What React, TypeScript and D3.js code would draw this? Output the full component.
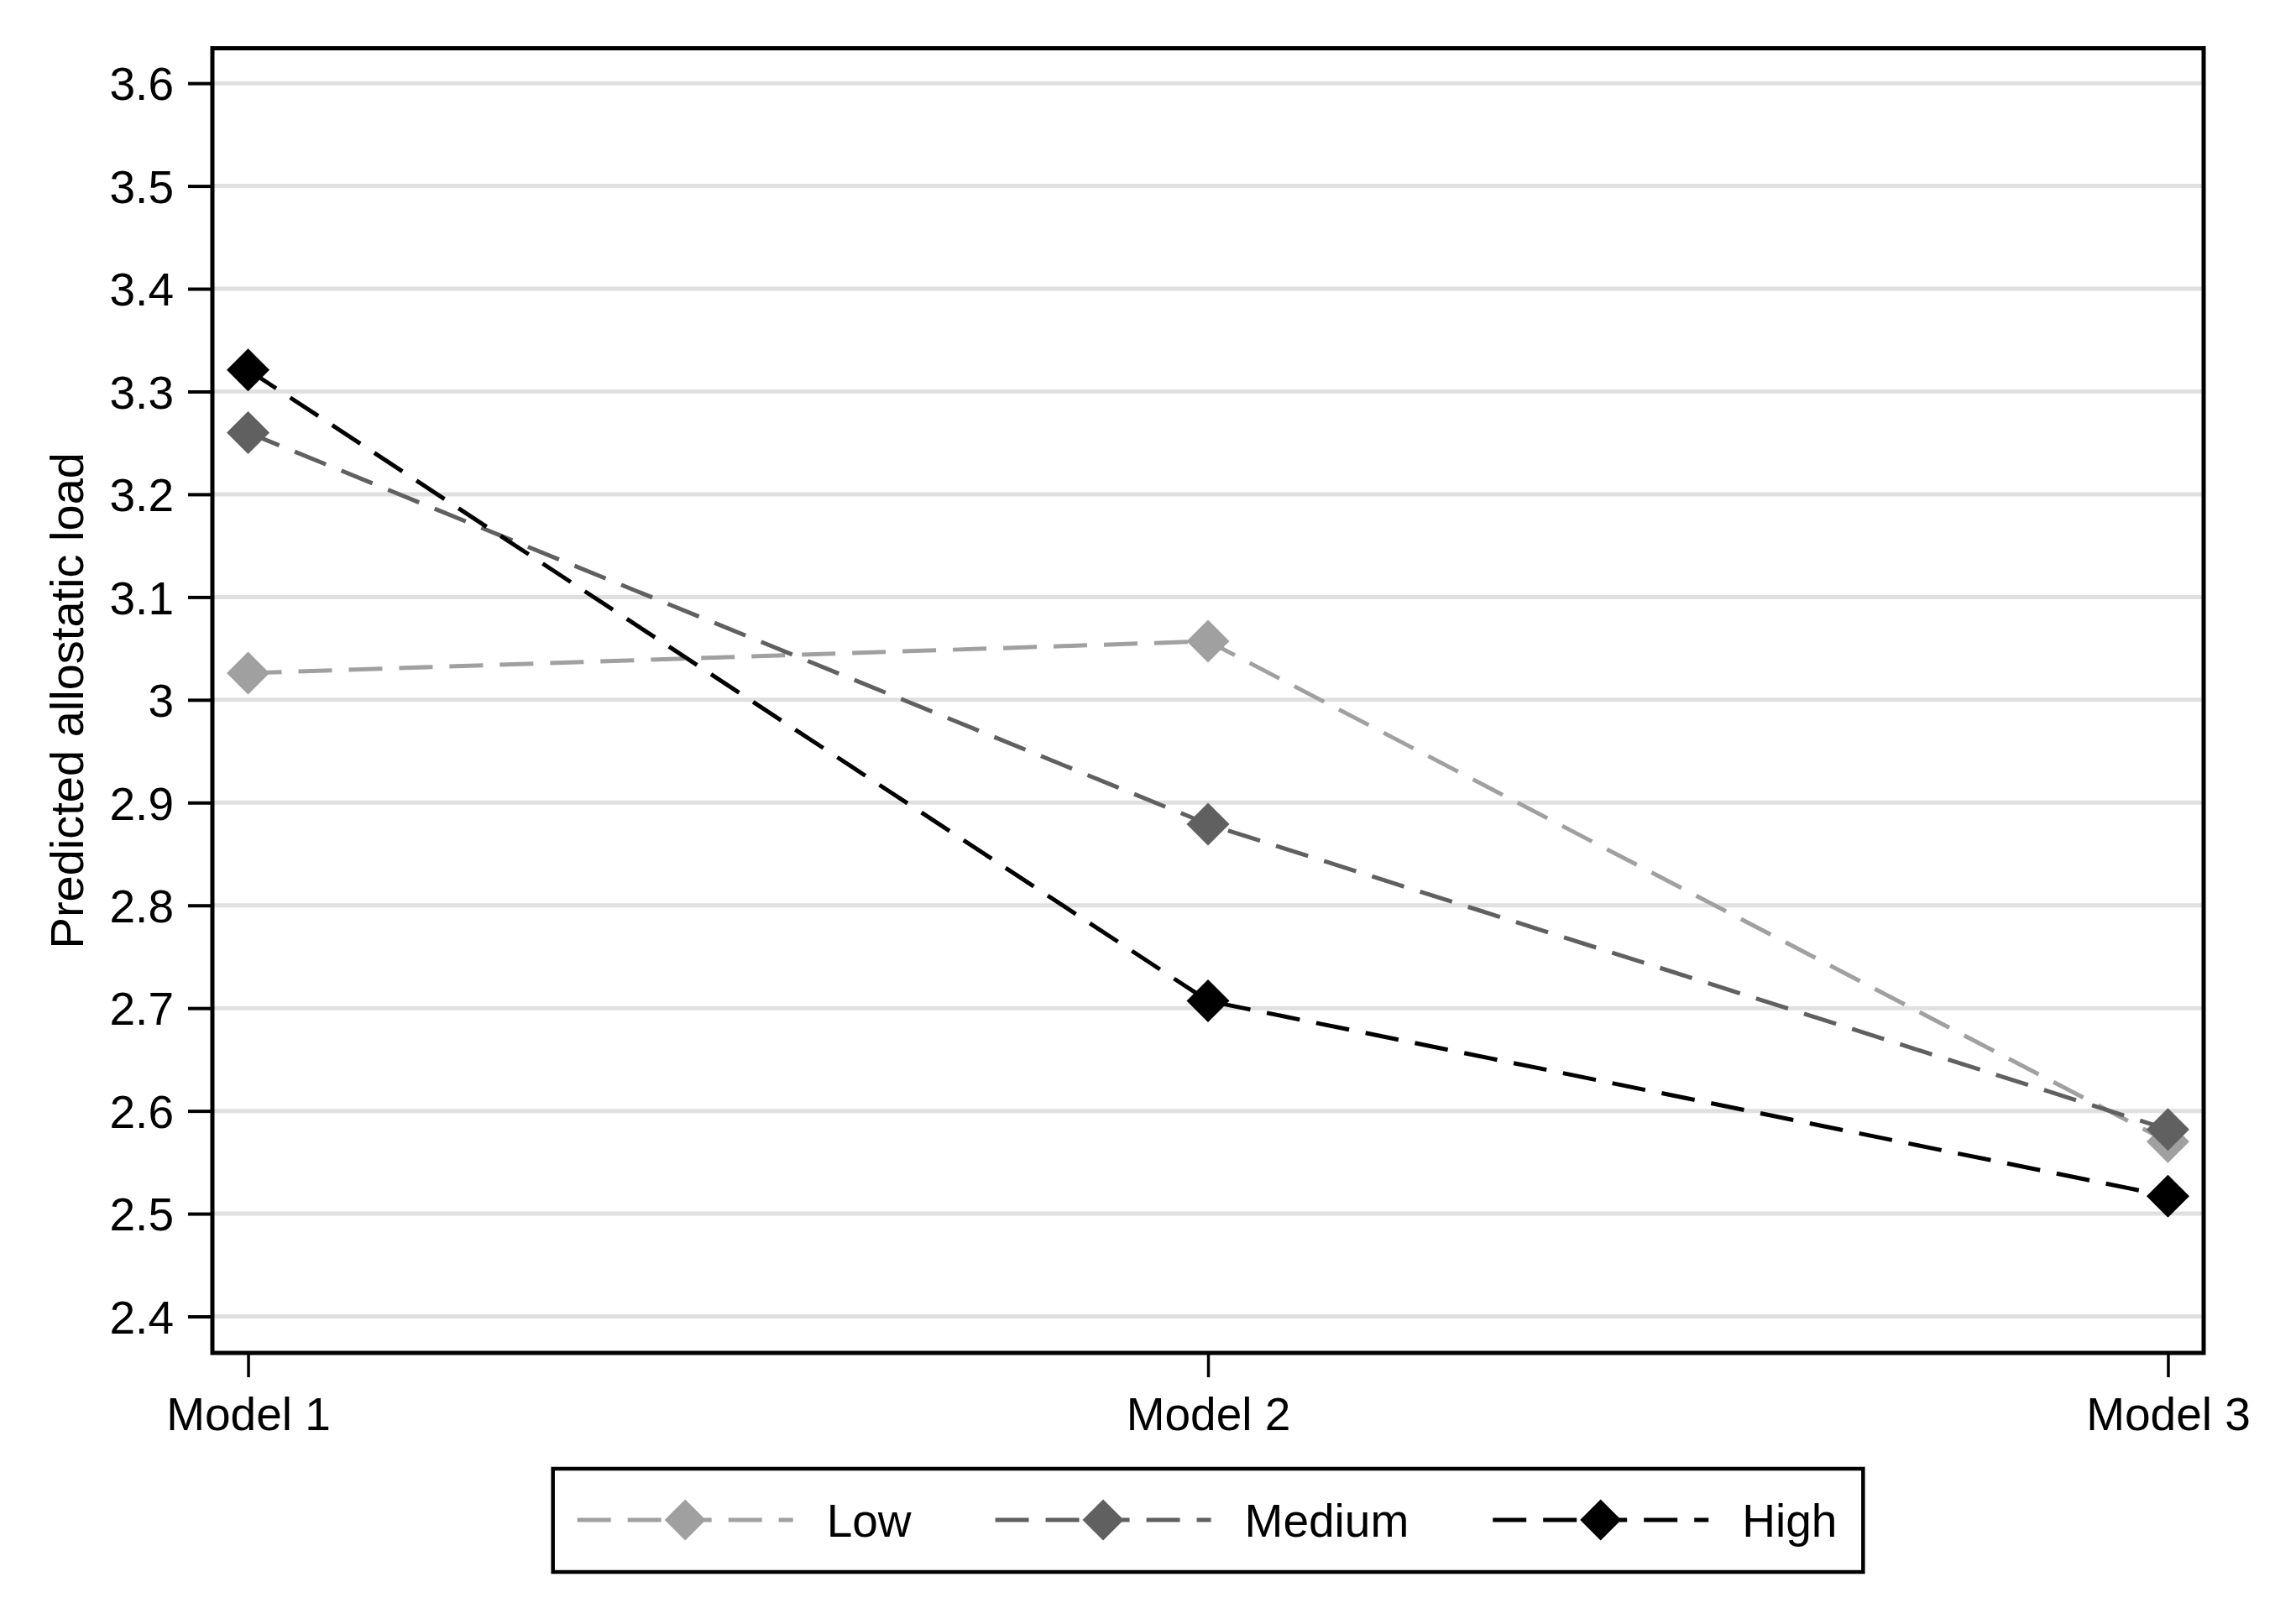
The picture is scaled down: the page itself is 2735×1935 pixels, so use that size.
import React, { useEffect, useRef } from 'react';
import * as d3 from 'd3';

// Values
const models = ['Model 1', 'Model 2', 'Model 3'];
const lowValues = [3.026, 3.057, 2.57];
const mediumValues = [3.26, 2.879, 2.582];
const highValues = [3.321, 2.707, 2.517];
const seriesNames = ['Low', 'Medium', 'High'];
const seriesColors = ['#a0a0a0', '#606060', '#000000'];
const yTicks = [2.4, 2.5, 2.6, 2.7, 2.8, 2.9, 3, 3.1, 3.2, 3.3, 3.4, 3.5, 3.6];
const yTitle = 'Predicted allostatic load';

const WIDTH = 2735;
const HEIGHT = 1935;
const FONT = 'Arial, "Liberation Sans", sans-serif';

export default function App() {
  const svgRef = useRef<SVGSVGElement>(null);

  useEffect(() => {
    if (!svgRef.current) return;
    const svg = d3.select(svgRef.current);
    svg.selectAll('*').remove();

    const plot = { left: 253, right: 2625, top: 57.5, bottom: 1612 };

    const x = d3.scalePoint<string>()
      .domain(models)
      .range([plot.left, plot.right])
      .padding(0.0372);

    const y = d3.scaleLinear()
      .domain([2.3645, 3.634])
      .range([plot.bottom, plot.top]);

    svg.append('rect')
      .attr('width', WIDTH).attr('height', HEIGHT)
      .attr('fill', '#ffffff');

    // Grid lines
    svg.append('g')
      .selectAll('line')
      .data(yTicks)
      .join('line')
      .attr('x1', plot.left).attr('x2', plot.right)
      .attr('y1', d => y(d)).attr('y2', d => y(d))
      .attr('stroke', '#e0e0e0')
      .attr('stroke-width', 5);

    // Y axis
    const yAxis = svg.append('g')
      .attr('transform', `translate(${plot.left},0)`)
      .call(d3.axisLeft(y).tickValues(yTicks).tickSize(29).tickPadding(17)
        .tickFormat(d => d3.format('~g')(d as number)));
    yAxis.select('.domain').remove();
    yAxis.selectAll('.tick line').attr('stroke', '#000').attr('stroke-width', 4);
    yAxis.selectAll('.tick text')
      .attr('fill', '#000')
      .attr('font-family', FONT)
      .attr('font-size', 55)
      .attr('dy', '0.36em');

    // X axis
    const xAxis = svg.append('g')
      .attr('transform', `translate(0,${plot.bottom})`)
      .call(d3.axisBottom(x).tickSize(29).tickPadding(24));
    xAxis.select('.domain').remove();
    xAxis.selectAll('.tick line').attr('stroke', '#000').attr('stroke-width', 3.5);
    xAxis.selectAll('.tick text')
      .attr('fill', '#000')
      .attr('font-family', FONT)
      .attr('font-size', 55)
      .attr('dy', '0.71em');

    // Plot frame
    svg.append('rect')
      .attr('x', plot.left).attr('y', plot.top)
      .attr('width', plot.right - plot.left)
      .attr('height', plot.bottom - plot.top)
      .attr('fill', 'none')
      .attr('stroke', '#000')
      .attr('stroke-width', 5);

    // Y title
    svg.append('text')
      .attr('transform', `translate(99,${(plot.top + plot.bottom) / 2}) rotate(-90)`)
      .attr('text-anchor', 'middle')
      .attr('font-family', FONT)
      .attr('font-size', 56)
      .attr('fill', '#000')
      .text(yTitle);

    const allSeries = [lowValues, mediumValues, highValues];
    const line = d3.line<number>()
      .x((_, i) => x(models[i]) as number)
      .y(d => y(d));
    const diamond = d3.symbol(d3.symbolSquare, 1300);

    allSeries.forEach((vals, s) => {
      const g = svg.append('g');
      g.append('path')
        .datum(vals)
        .attr('fill', 'none')
        .attr('stroke', seriesColors[s])
        .attr('stroke-width', 5)
        .attr('stroke-dasharray', '40,20')
        .attr('d', line);
      g.selectAll('path.mark')
        .data(vals)
        .join('path')
        .attr('class', 'mark')
        .attr('transform', (d, i) => `translate(${x(models[i])},${y(d)}) rotate(45)`)
        .attr('fill', seriesColors[s])
        .attr('d', diamond);
    });

    // Legend
    const legendY = 1811;
    const lineLen = 257;
    const legend = svg.append('g');
    const box = legend.append('rect')
      .attr('y', 1750).attr('height', 123)
      .attr('fill', '#fff')
      .attr('stroke', '#000')
      .attr('stroke-width', 4.5);

    let cursor = 0;
    const items = legend.append('g');
    const legendDiamond = d3.symbol(d3.symbolSquare, 1200);
    seriesNames.forEach((name, s) => {
      const it = items.append('g').attr('transform', `translate(${cursor},0)`);
      it.append('line')
        .attr('x1', 0).attr('x2', lineLen)
        .attr('y1', legendY).attr('y2', legendY)
        .attr('stroke', seriesColors[s])
        .attr('stroke-width', 5)
        .attr('stroke-dasharray', '40,20');
      it.append('path')
        .attr('transform', `translate(${lineLen / 2},${legendY}) rotate(45)`)
        .attr('fill', seriesColors[s])
        .attr('d', legendDiamond);
      const t = it.append('text')
        .attr('x', lineLen + 40)
        .attr('y', legendY + 20)
        .attr('font-family', FONT)
        .attr('font-size', 55)
        .attr('fill', '#000')
        .text(name);
      const w = (t.node() as SVGTextElement).getComputedTextLength();
      cursor += lineLen + 40 + w + (s < seriesNames.length - 1 ? 100 : 0);
    });
    const padL = 29;
    const padR = 31;
    const boxW = cursor + padL + padR;
    const boxX = (plot.left + plot.right) / 2 - boxW / 2;
    box.attr('x', boxX).attr('width', boxW);
    items.attr('transform', `translate(${boxX + padL},0)`);
  }, []);

  return (
    <svg
      ref={svgRef}
      width={WIDTH}
      height={HEIGHT}
      style={{ position: 'absolute', left: 0, top: 0, display: 'block' }}
    />
  );
}
